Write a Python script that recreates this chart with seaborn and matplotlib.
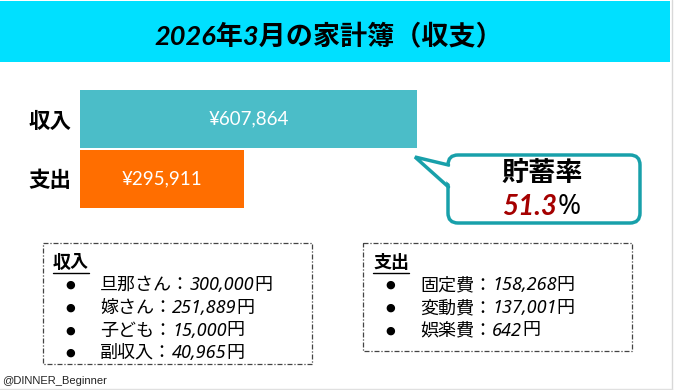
import matplotlib
matplotlib.use("Agg")
import matplotlib.pyplot as plt
import seaborn as sns
import pandas as pd
from matplotlib.patches import Rectangle, FancyBboxPatch, Polygon

# ---------------- data ----------------
title = "2026年3月の家計簿（収支）"
categories = ["収入", "支出"]
amounts = [607864, 295911]
savings_label = "貯蓄率"
savings_rate = "51.3"
income_items = ["旦那さん", "嫁さん", "子ども", "副収入"]
income_values = [300000, 251889, 15000, 40965]
expense_items = ["固定費", "変動費", "娯楽費"]
expense_values = [158268, 137001, 642]
footer = "@DINNER_Beginner"

bar_colors = ["#4BBDC8", "#FF6E00"]

sns.set_theme(style="white")
plt.rcParams["font.family"] = ["Noto Sans CJK JP", "DejaVu Sans"]

W, H = 676, 390
fig = plt.figure(figsize=(W / 100, H / 100), dpi=100)
fig.patch.set_facecolor("white")

# overlay axes in pixel coordinates
ov = fig.add_axes([0, 0, 1, 1])
ov.set_xlim(0, W)
ov.set_ylim(H, 0)
ov.axis("off")

CJK = ["Noto Sans CJK JP", "DejaVu Sans"]
NUM_IT = ["Noto Sans", "DejaVu Sans"]
BOLD_IT = ["Lato", "Noto Sans CJK JP", "DejaVu Sans"]

# title band
ov.add_patch(Rectangle((0, 1), 670, 61, facecolor="#00E0FF", edgecolor="none"))
ov.text(329, 36, title, ha="center", va="center", fontsize=19.5, fontweight="bold",
        style="italic", family=BOLD_IT, color="black")
# light frame lines
ov.plot([671.5, 671.5], [0, H], color="#D8D8D8", lw=1)
ov.plot([0, 672], [388.5, 388.5], color="#E0E0E0", lw=1)

# bar axes
axb = fig.add_axes([80 / W, 1 - 208 / H, (417 - 80) / W, (208 - 90) / H])
df = pd.DataFrame({"category": categories, "amount": amounts})
sns.barplot(data=df, x="amount", y="category", hue="category", palette=bar_colors,
            orient="h", width=0.967, legend=False, ax=axb, linewidth=0, saturation=1)
axb.set_xlim(0, amounts[0])
axb.set_ylim(1.4835, -0.4835)
for side in axb.spines.values():
    side.set_visible(False)
axb.set_xticks([])
axb.set_xlabel("")
axb.set_ylabel("")
axb.tick_params(axis="y", length=0, pad=6)
for lab in axb.get_yticklabels():
    lab.set_fontsize(15.5)
    lab.set_fontweight("bold")
    lab.set_color("black")
axb.patch.set_alpha(0)
for cont, v in zip(axb.containers, amounts):
    axb.bar_label(cont, labels=[f"¥{v:,}"], label_type="center", color="white",
                  fontsize=13.5, family=["Lato", "DejaVu Sans"])

# callout
teal = "#18A0AA"
box = FancyBboxPatch((448, 155), 192, 68, boxstyle="round,pad=0,rounding_size=10",
                     facecolor="white", edgecolor=teal, linewidth=2.5, zorder=3)
ov.add_patch(box)
ov.add_patch(Polygon([(451, 167), (416, 157.5), (451, 185)], closed=True,
                     facecolor="white", edgecolor="none", zorder=4))
ov.plot([448.5, 415, 448.5], [165, 157, 187], color=teal, lw=2.5, zorder=5,
        solid_capstyle="round", solid_joinstyle="miter")
ov.text(542, 173, savings_label, ha="center", va="center", fontsize=19.5,
        fontweight="bold", family=CJK, color="black", zorder=6)
ov.text(557, 207, savings_rate, ha="right", va="center", fontsize=20,
        fontweight="bold", style="italic", family=BOLD_IT, color="#A50000", zorder=6)
ov.text(558, 207, "%", ha="left", va="center", fontsize=20, family=NUM_IT,
        color="black", zorder=6)

renderer = fig.canvas.get_renderer()


def chain(x, y, parts):
    for s, kw in parts:
        t = ov.text(x, y, s, ha="left", va="center", **kw)
        bb = t.get_window_extent(renderer)
        x += bb.width
    return x


def listbox(x0, x1, y0, y1, header, items, values):
    ov.add_patch(Rectangle((x0, y0), x1 - x0, y1 - y0, facecolor="none",
                           edgecolor="#444444", lw=0.9, linestyle=(0, (4, 1.5, 1, 1.5))))
    t = ov.text(x0 + 10, 262, header, ha="left", va="center", fontsize=13,
                fontweight="bold", family=CJK, color="black")
    bb = t.get_window_extent(renderer)
    ov.plot([x0 + 10, x0 + 10 + bb.width], [272.5, 272.5], color="black", lw=1)
    ys = [285, 308, 330.5, 353]
    for i, (name, val) in enumerate(zip(items, values)):
        y = ys[i]
        ov.text(x0 + 27, y, "●", ha="center", va="center", fontsize=8,
                family=["DejaVu Sans"], color="black")
        chain(x0 + 57, y, [
            (name + "：", dict(fontsize=13, family=CJK, color="black")),
            (f"{val:,}", dict(fontsize=13, style="italic", family=NUM_IT, color="black")),
            ("円", dict(fontsize=13, family=CJK, color="black")),
        ])


listbox(43, 312, 243, 364, "収入", income_items, income_values)
listbox(363, 632, 243, 351, "支出", expense_items, expense_values)

ov.text(2, 381, footer, ha="left", va="center", fontsize=8,
        family=["Liberation Sans", "DejaVu Sans"], color="#222222")

fig.savefig("out.png", dpi=100, facecolor="white")
